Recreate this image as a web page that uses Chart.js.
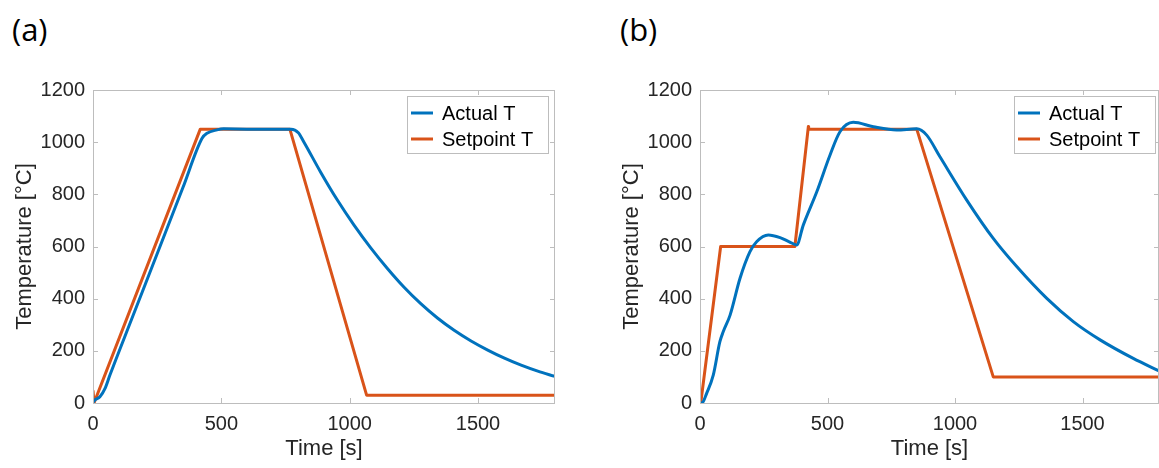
<!DOCTYPE html>
<html>
<head>
<meta charset="utf-8">
<script src="https://cdn.jsdelivr.net/npm/chart.js@4.4.0/dist/chart.umd.min.js"></script>
<style>
    body { margin: 0; background: #fff; width: 1159px; height: 468px; overflow: hidden; position: relative; }
    .panel-label { position: absolute; top: 8px; font-family: 'Open Sans', sans-serif; font-size: 31px; color: #000; }
    .chart-box { position: absolute; top: 0; height: 468px; }
</style>
</head>
<body>
<div class="panel-label" style="left: 12px;">(a)</div>
<div class="panel-label" style="left: 620px;">(b)</div>
<div class="chart-box" style="left: 0; width: 580px;"><canvas id="chart-a" width="580" height="468"></canvas></div>
<div class="chart-box" style="left: 607px; width: 552px;"><canvas id="chart-b" width="552" height="468"></canvas></div>
<script>
// Axis ticks (shared)
const xTicks = [0, 500, 1000, 1500];
const yTicks = [0, 200, 400, 600, 800, 1000, 1200];
const seriesLabels = ['Actual T', 'Setpoint T'];

// (a) actual temperature
const aActualTime = [0, 7, 27, 47, 66, 150, 250, 350, 425, 444, 483, 509, 600, 700, 772, 800, 822, 887, 952, 1017, 1082, 1147, 1212, 1277, 1342, 1407, 1473, 1538, 1603, 1668, 1733, 1800];
const aActualTemp = [2, 11, 24, 56, 107, 320, 572, 825, 1015, 1034, 1047, 1051, 1050, 1050, 1050, 1036, 1000, 885, 778, 682, 595, 516, 444, 381, 326, 279, 238, 203, 172, 145, 122, 102];
// (a) setpoint
const aSetTime = [0, 4, 418, 767, 1066, 1800];
const aSetTemp = [48, 0, 1050, 1050, 30, 30];

// (b) actual temperature
const bActualTime = [0, 10, 26, 52, 78, 91, 118, 157, 196, 222, 268, 314, 350, 379, 405, 458, 510, 549, 601, 680, 771, 850, 889, 941, 1046, 1150, 1242, 1360, 1464, 1569, 1699, 1800];
const bActualTemp = [0, 2, 37, 107, 235, 273, 337, 478, 580, 618, 644, 634, 618, 606, 682, 810, 951, 1040, 1076, 1059, 1047, 1051, 1027, 944, 778, 631, 523, 401, 312, 242, 171, 123];
// (b) setpoint
const bSetTime = [0, 3, 81, 372, 425, 426, 850, 1150, 1800];
const bSetTemp = [28, 0, 600, 600, 1060, 1050, 1050, 100, 100];

const colorActual = '#0072BD';
const colorSetpoint = '#D95319';
const boxColor = '#bdbdbd';
const tickText = '#262626';
const fontFamily = "'Liberation Sans', Arial, Helvetica, sans-serif";

function toPoints(xs, ys) {
    return xs.map((x, i) => ({ x: x, y: ys[i] }));
}

// box, inward tick marks and the in-axes legend, matlab style
const matlabAxesPlugin = {
    id: 'matlabAxes',
    afterDraw(chart) {
        const ctx = chart.ctx;
        const area = chart.chartArea;
        const xs = chart.scales.x;
        const ys = chart.scales.y;
        ctx.save();
        ctx.strokeStyle = boxColor;
        ctx.lineWidth = 1;
        ctx.strokeRect(area.left + 0.5, area.top + 0.5, area.right - area.left - 1, area.bottom - area.top);
        const tl = 5;
        ctx.beginPath();
        xTicks.forEach(v => {
            const px = Math.round(xs.getPixelForValue(v)) + 0.5;
            ctx.moveTo(px, area.bottom); ctx.lineTo(px, area.bottom - tl);
            ctx.moveTo(px, area.top); ctx.lineTo(px, area.top + tl);
        });
        yTicks.forEach(v => {
            const py = Math.round(ys.getPixelForValue(v)) + 0.5;
            ctx.moveTo(area.left, py); ctx.lineTo(area.left + tl, py);
            ctx.moveTo(area.right, py); ctx.lineTo(area.right - tl, py);
        });
        ctx.stroke();

        // legend
        const lg = chart.options.plugins.matlabAxes;
        const lx = lg.legendLeft, ly = area.top + 6, lw = 141, lh = 57;
        ctx.fillStyle = '#fff';
        ctx.fillRect(lx, ly, lw, lh);
        ctx.strokeStyle = boxColor;
        ctx.strokeRect(lx + 0.5, ly + 0.5, lw, lh);
        ctx.font = '20px ' + fontFamily;
        ctx.textBaseline = 'middle';
        chart.data.datasets.forEach((ds, i) => {
            const rowY = ly + 17 + i * 26;
            ctx.strokeStyle = ds.borderColor;
            ctx.lineWidth = 3;
            ctx.beginPath();
            ctx.moveTo(lx + 4, rowY); ctx.lineTo(lx + 26, rowY);
            ctx.stroke();
            ctx.fillStyle = '#000';
            ctx.fillText(ds.label, lx + 35, rowY + 1);
        });
        ctx.restore();
    }
};

function makeChart(canvasId, actualPts, setPts, padRight, legendLeft) {
    const ctx = document.getElementById(canvasId).getContext('2d');
    return new Chart(ctx, {
        type: 'scatter',
        data: {
            datasets: [{
                label: seriesLabels[0],
                data: actualPts,
                showLine: true,
                borderColor: colorActual,
                borderWidth: 3,
                pointRadius: 0,
                cubicInterpolationMode: 'monotone'
            }, {
                label: seriesLabels[1],
                data: setPts,
                showLine: true,
                borderColor: colorSetpoint,
                borderWidth: 3,
                borderJoinStyle: 'round',
                pointRadius: 0,
                tension: 0
            }]
        },
        options: {
            responsive: false,
            animation: false,
            events: [],
            layout: { padding: { top: 90, right: padRight, left: 0, bottom: 0 } },
            plugins: {
                legend: { display: false },
                tooltip: { enabled: false },
                matlabAxes: { legendLeft: legendLeft }
            },
            scales: {
                x: {
                    type: 'linear',
                    min: 0,
                    max: 1800,
                    afterBuildTicks: scale => { scale.ticks = xTicks.map(v => ({ value: v })); },
                    afterFit: scale => { scale.height = 65; },
                    grid: { display: false, drawTicks: false },
                    border: { display: false },
                    ticks: { color: tickText, font: { size: 20, family: fontFamily }, padding: 9, maxRotation: 0, callback: v => String(v) },
                    title: { display: true, text: 'Time [s]', color: tickText, font: { size: 22, family: fontFamily }, padding: { top: 0, bottom: 6 } }
                },
                y: {
                    type: 'linear',
                    min: 0,
                    max: 1200,
                    afterBuildTicks: scale => { scale.ticks = yTicks.map(v => ({ value: v })); },
                    afterFit: scale => { scale.width = 93; },
                    grid: { display: false, drawTicks: false },
                    border: { display: false },
                    ticks: { color: tickText, font: { size: 20, family: fontFamily }, padding: 8, callback: v => String(v) },
                    title: { display: true, text: 'Temperature [°C]', color: tickText, font: { size: 22, family: fontFamily }, padding: { top: 12, bottom: 0 } }
                }
            }
        },
        plugins: [matlabAxesPlugin]
    });
}

makeChart('chart-a', toPoints(aActualTime, aActualTemp), toPoints(aSetTime, aSetTemp), 25, 407);
makeChart('chart-b', toPoints(bActualTime, bActualTemp), toPoints(bSetTime, bSetTemp), 0, 407);
</script>
</body>
</html>
